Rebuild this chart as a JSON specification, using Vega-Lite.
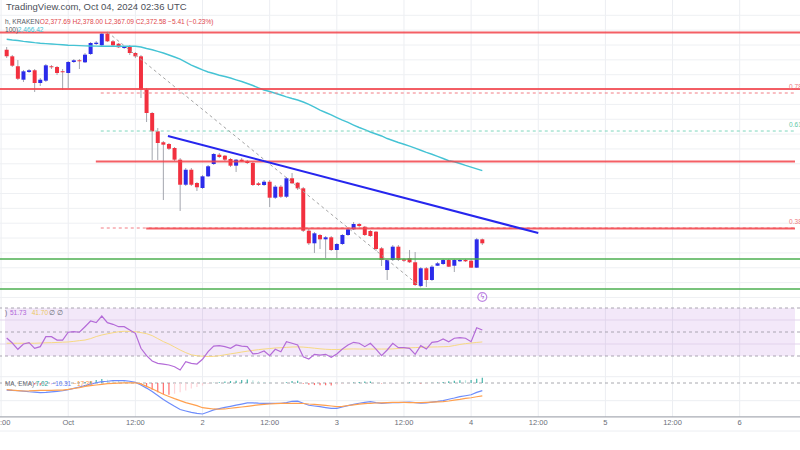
{
"$schema":"https://vega.github.io/schema/vega-lite/v6.json",
"autosize":"none","width":800,"height":417,
"padding":{"left":0,"top":0,"right":0,"bottom":33},
"background":"#ffffff",
"config":{"view":{"stroke":null},"font":"Liberation Sans"},
"datasets":{
"c":[
{"t":"2024-09-30T13:00:00Z","o":2627.7,"h":2631.3,"l":2616.7,"c":2618.9,"ma":2641.7,"rsi":45.0,"rma":40.6,"macd":-9.6,"sig":-8.9,"hist":-0.7},
{"t":"2024-09-30T14:00:00Z","o":2618.9,"h":2620.7,"l":2604.7,"c":2606.4,"ma":2640.7,"rsi":40.8,"rma":40.6,"macd":-10.0,"sig":-9.7,"hist":-0.3},
{"t":"2024-09-30T15:00:00Z","o":2605.6,"h":2614.0,"l":2587.3,"c":2589.1,"ma":2640.0,"rsi":35.6,"rma":40.6,"macd":-10.5,"sig":-10.3,"hist":-0.2},
{"t":"2024-09-30T16:00:00Z","o":2587.7,"h":2600.7,"l":2584.7,"c":2598.9,"ma":2638.9,"rsi":40.0,"rma":40.6,"macd":-11.0,"sig":-10.8,"hist":-0.2},
{"t":"2024-09-30T17:00:00Z","o":2598.0,"h":2602.0,"l":2596.7,"c":2600.3,"ma":2638.0,"rsi":41.1,"rma":40.6,"macd":-11.8,"sig":-10.7,"hist":-1.1},
{"t":"2024-09-30T18:00:00Z","o":2600.3,"h":2602.0,"l":2571.3,"c":2583.3,"ma":2637.1,"rsi":36.4,"rma":40.6,"macd":-12.3,"sig":-10.4,"hist":-1.9},
{"t":"2024-09-30T19:00:00Z","o":2583.3,"h":2590.0,"l":2579.3,"c":2587.7,"ma":2636.4,"rsi":37.8,"rma":40.8,"macd":-13.0,"sig":-10.1,"hist":-2.9},
{"t":"2024-09-30T20:00:00Z","o":2586.4,"h":2608.7,"l":2584.7,"c":2606.9,"ma":2635.9,"rsi":46.1,"rma":41.0,"macd":-12.6,"sig":-10.0,"hist":-2.6},
{"t":"2024-09-30T21:00:00Z","o":2605.6,"h":2607.3,"l":2602.0,"c":2604.3,"ma":2635.3,"rsi":46.1,"rma":41.1,"macd":-11.9,"sig":-9.9,"hist":-2.0},
{"t":"2024-09-30T22:00:00Z","o":2604.7,"h":2606.0,"l":2594.0,"c":2596.7,"ma":2634.8,"rsi":43.3,"rma":41.3,"macd":-11.2,"sig":-9.7,"hist":-1.5},
{"t":"2024-09-30T23:00:00Z","o":2598.9,"h":2602.0,"l":2574.0,"c":2597.6,"ma":2634.3,"rsi":43.3,"rma":41.5,"macd":-10.5,"sig":-9.6,"hist":-0.9},
{"t":"2024-10-01T00:00:00Z","o":2596.7,"h":2612.7,"l":2576.7,"c":2611.3,"ma":2633.7,"rsi":49.8,"rma":41.7,"macd":-9.1,"sig":-8.6,"hist":-0.5},
{"t":"2024-10-01T01:00:00Z","o":2611.3,"h":2615.3,"l":2610.0,"c":2613.6,"ma":2633.5,"rsi":50.3,"rma":42.2,"macd":-7.3,"sig":-7.4,"hist":0.1},
{"t":"2024-10-01T02:00:00Z","o":2613.6,"h":2615.3,"l":2602.0,"c":2612.3,"ma":2633.2,"rsi":49.8,"rma":42.8,"macd":-5.4,"sig":-6.2,"hist":0.8},
{"t":"2024-10-01T03:00:00Z","o":2610.9,"h":2623.3,"l":2610.0,"c":2621.1,"ma":2632.9,"rsi":54.4,"rma":43.3,"macd":-3.5,"sig":-4.7,"hist":1.5},
{"t":"2024-10-01T04:00:00Z","o":2622.0,"h":2638.0,"l":2620.7,"c":2636.7,"ma":2632.7,"rsi":59.2,"rma":44.5,"macd":-1.6,"sig":-3.6,"hist":2.5},
{"t":"2024-10-01T05:00:00Z","o":2635.3,"h":2639.3,"l":2634.0,"c":2637.1,"ma":2632.5,"rsi":57.8,"rma":46.2,"macd":0.3,"sig":-2.7,"hist":4.0},
{"t":"2024-10-01T06:00:00Z","o":2633.6,"h":2650.0,"l":2632.7,"c":2649.1,"ma":2632.3,"rsi":63.3,"rma":47.5,"macd":1.9,"sig":-1.8,"hist":5.4},
{"t":"2024-10-01T07:00:00Z","o":2649.1,"h":2651.3,"l":2638.0,"c":2638.9,"ma":2632.3,"rsi":57.8,"rma":48.5,"macd":2.4,"sig":-0.9,"hist":4.5},
{"t":"2024-10-01T08:00:00Z","o":2638.9,"h":2640.7,"l":2632.7,"c":2633.6,"ma":2632.3,"rsi":56.4,"rma":49.4,"macd":3.1,"sig":-0.4,"hist":4.0},
{"t":"2024-10-01T09:00:00Z","o":2635.7,"h":2636.7,"l":2630.0,"c":2630.9,"ma":2632.3,"rsi":54.4,"rma":50.2,"macd":3.1,"sig":-0.1,"hist":3.5},
{"t":"2024-10-01T10:00:00Z","o":2630.0,"h":2632.7,"l":2628.7,"c":2631.3,"ma":2632.3,"rsi":54.4,"rma":50.6,"macd":3.1,"sig":0.1,"hist":3.0},
{"t":"2024-10-01T11:00:00Z","o":2632.3,"h":2634.0,"l":2620.7,"c":2623.3,"ma":2632.3,"rsi":51.7,"rma":50.5,"macd":2.4,"sig":0.3,"hist":2.0},
{"t":"2024-10-01T12:00:00Z","o":2623.3,"h":2624.7,"l":2616.7,"c":2618.9,"ma":2632.3,"rsi":48.9,"rma":50.3,"macd":0.8,"sig":0.3,"hist":0.5},
{"t":"2024-10-01T13:00:00Z","o":2618.9,"h":2620.7,"l":2563.3,"c":2574.4,"ma":2631.3,"rsi":36.4,"rma":49.5,"macd":-2.7,"sig":-1.2,"hist":-2.0},
{"t":"2024-10-01T14:00:00Z","o":2574.4,"h":2576.7,"l":2531.3,"c":2543.3,"ma":2629.3,"rsi":30.3,"rma":48.6,"macd":-6.9,"sig":-4.5,"hist":-5.0},
{"t":"2024-10-01T15:00:00Z","o":2543.3,"h":2544.7,"l":2480.7,"c":2518.9,"ma":2627.6,"rsi":25.8,"rma":47.0,"macd":-11.6,"sig":-7.8,"hist":-9.0},
{"t":"2024-10-01T16:00:00Z","o":2518.9,"h":2523.3,"l":2480.7,"c":2503.3,"ma":2625.6,"rsi":23.9,"rma":44.5,"macd":-17.0,"sig":-11.6,"hist":-12.5},
{"t":"2024-10-01T17:00:00Z","o":2504.3,"h":2506.0,"l":2427.3,"c":2501.1,"ma":2623.3,"rsi":23.3,"rma":42.0,"macd":-22.3,"sig":-15.3,"hist":-15.0},
{"t":"2024-10-01T18:00:00Z","o":2502.0,"h":2503.3,"l":2494.0,"c":2495.7,"ma":2620.7,"rsi":22.5,"rma":40.0,"macd":-26.9,"sig":-18.2,"hist":-15.8},
{"t":"2024-10-01T19:00:00Z","o":2496.7,"h":2498.0,"l":2479.3,"c":2481.1,"ma":2618.0,"rsi":21.1,"rma":37.5,"macd":-31.5,"sig":-21.1,"hist":-14.5},
{"t":"2024-10-01T20:00:00Z","o":2481.1,"h":2483.3,"l":2412.7,"c":2447.7,"ma":2615.3,"rsi":18.3,"rma":35.0,"macd":-35.8,"sig":-23.8,"hist":-12.5},
{"t":"2024-10-01T21:00:00Z","o":2447.7,"h":2470.0,"l":2446.0,"c":2467.7,"ma":2611.3,"rsi":25.3,"rma":32.8,"macd":-37.8,"sig":-26.5,"hist":-10.0},
{"t":"2024-10-01T22:00:00Z","o":2467.7,"h":2470.0,"l":2446.0,"c":2447.7,"ma":2607.3,"rsi":23.9,"rma":31.0,"macd":-39.7,"sig":-28.5,"hist":-7.5},
{"t":"2024-10-01T23:00:00Z","o":2450.0,"h":2451.3,"l":2439.3,"c":2444.3,"ma":2604.0,"rsi":23.3,"rma":30.2,"macd":-41.1,"sig":-30.5,"hist":-5.5},
{"t":"2024-10-02T00:00:00Z","o":2443.3,"h":2460.7,"l":2442.0,"c":2458.9,"ma":2600.7,"rsi":27.3,"rma":29.8,"macd":-41.9,"sig":-33.4,"hist":-3.5},
{"t":"2024-10-02T01:00:00Z","o":2458.9,"h":2474.0,"l":2458.0,"c":2472.3,"ma":2598.0,"rsi":33.6,"rma":29.6,"macd":-39.2,"sig":-34.2,"hist":-1.5},
{"t":"2024-10-02T02:00:00Z","o":2475.3,"h":2490.0,"l":2474.0,"c":2488.7,"ma":2596.0,"rsi":38.3,"rma":29.7,"macd":-36.4,"sig":-35.1,"hist":0.5},
{"t":"2024-10-02T03:00:00Z","o":2487.7,"h":2490.0,"l":2483.3,"c":2484.7,"ma":2593.7,"rsi":38.6,"rma":30.2,"macd":-34.6,"sig":-35.5,"hist":0.9},
{"t":"2024-10-02T04:00:00Z","o":2486.4,"h":2487.3,"l":2479.3,"c":2481.1,"ma":2592.0,"rsi":37.8,"rma":31.0,"macd":-33.0,"sig":-35.1,"hist":2.1},
{"t":"2024-10-02T05:00:00Z","o":2482.0,"h":2483.3,"l":2471.3,"c":2473.1,"ma":2590.0,"rsi":36.4,"rma":31.8,"macd":-31.5,"sig":-34.1,"hist":2.6},
{"t":"2024-10-02T06:00:00Z","o":2473.1,"h":2482.0,"l":2464.7,"c":2481.1,"ma":2587.6,"rsi":39.2,"rma":32.5,"macd":-30.0,"sig":-33.2,"hist":3.2},
{"t":"2024-10-02T07:00:00Z","o":2481.1,"h":2483.3,"l":2478.0,"c":2478.9,"ma":2585.3,"rsi":38.3,"rma":33.3,"macd":-28.5,"sig":-32.4,"hist":3.9},
{"t":"2024-10-02T08:00:00Z","o":2478.9,"h":2480.7,"l":2475.3,"c":2476.7,"ma":2582.7,"rsi":37.8,"rma":34.0,"macd":-26.9,"sig":-31.5,"hist":4.6},
{"t":"2024-10-02T09:00:00Z","o":2476.7,"h":2478.0,"l":2446.0,"c":2447.3,"ma":2580.0,"rsi":31.7,"rma":34.7,"macd":-26.9,"sig":-30.5,"hist":3.6},
{"t":"2024-10-02T10:00:00Z","o":2449.6,"h":2451.3,"l":2446.0,"c":2447.3,"ma":2576.7,"rsi":32.3,"rma":35.3,"macd":-27.3,"sig":-29.6,"hist":2.3},
{"t":"2024-10-02T11:00:00Z","o":2447.3,"h":2454.0,"l":2446.0,"c":2451.7,"ma":2574.0,"rsi":34.2,"rma":35.8,"macd":-27.4,"sig":-28.9,"hist":1.5},
{"t":"2024-10-02T12:00:00Z","o":2451.7,"h":2454.0,"l":2418.0,"c":2430.4,"ma":2572.0,"rsi":30.3,"rma":36.2,"macd":-27.4,"sig":-28.4,"hist":1.0},
{"t":"2024-10-02T13:00:00Z","o":2430.4,"h":2447.3,"l":2428.7,"c":2445.1,"ma":2569.7,"rsi":35.6,"rma":36.7,"macd":-27.4,"sig":-27.8,"hist":0.4},
{"t":"2024-10-02T14:00:00Z","o":2445.1,"h":2447.3,"l":2430.0,"c":2431.7,"ma":2567.3,"rsi":33.6,"rma":36.9,"macd":-27.4,"sig":-27.4,"hist":0.1},
{"t":"2024-10-02T15:00:00Z","o":2431.7,"h":2458.0,"l":2430.0,"c":2456.3,"ma":2564.9,"rsi":41.9,"rma":37.2,"macd":-26.4,"sig":-27.4,"hist":1.0},
{"t":"2024-10-02T16:00:00Z","o":2456.3,"h":2463.3,"l":2448.7,"c":2449.6,"ma":2562.7,"rsi":40.6,"rma":37.5,"macd":-24.7,"sig":-27.4,"hist":2.7},
{"t":"2024-10-02T17:00:00Z","o":2450.4,"h":2451.3,"l":2440.7,"c":2442.9,"ma":2560.7,"rsi":39.2,"rma":37.6,"macd":-24.5,"sig":-27.4,"hist":2.9},
{"t":"2024-10-02T18:00:00Z","o":2442.9,"h":2444.7,"l":2384.7,"c":2386.4,"ma":2558.0,"rsi":29.4,"rma":37.4,"macd":-27.3,"sig":-27.7,"hist":-1.0},
{"t":"2024-10-02T19:00:00Z","o":2386.4,"h":2388.7,"l":2367.3,"c":2369.6,"ma":2554.7,"rsi":27.5,"rma":37.0,"macd":-30.1,"sig":-28.4,"hist":-2.5},
{"t":"2024-10-02T20:00:00Z","o":2369.6,"h":2384.7,"l":2356.7,"c":2382.9,"ma":2551.1,"rsi":31.4,"rma":36.5,"macd":-31.1,"sig":-28.9,"hist":-2.8},
{"t":"2024-10-02T21:00:00Z","o":2380.7,"h":2382.0,"l":2362.0,"c":2374.9,"ma":2547.3,"rsi":30.8,"rma":36.0,"macd":-32.0,"sig":-29.6,"hist":-3.0},
{"t":"2024-10-02T22:00:00Z","o":2374.9,"h":2379.3,"l":2350.0,"c":2377.6,"ma":2544.0,"rsi":31.4,"rma":35.6,"macd":-33.2,"sig":-30.3,"hist":-3.2},
{"t":"2024-10-02T23:00:00Z","o":2377.6,"h":2379.3,"l":2359.3,"c":2360.7,"ma":2540.7,"rsi":28.9,"rma":35.4,"macd":-34.3,"sig":-31.1,"hist":-3.5},
{"t":"2024-10-03T00:00:00Z","o":2360.7,"h":2370.0,"l":2350.0,"c":2368.7,"ma":2537.1,"rsi":31.7,"rma":35.4,"macd":-34.2,"sig":-31.9,"hist":-2.5},
{"t":"2024-10-03T01:00:00Z","o":2368.7,"h":2382.0,"l":2367.3,"c":2380.7,"ma":2533.7,"rsi":35.8,"rma":35.6,"macd":-32.4,"sig":-31.5,"hist":-1.0},
{"t":"2024-10-03T02:00:00Z","o":2380.7,"h":2390.0,"l":2379.3,"c":2388.3,"ma":2530.7,"rsi":39.2,"rma":35.8,"macd":-30.5,"sig":-30.4,"hist":-0.2},
{"t":"2024-10-03T03:00:00Z","o":2388.3,"h":2398.0,"l":2387.3,"c":2395.3,"ma":2527.3,"rsi":41.4,"rma":35.9,"macd":-28.9,"sig":-29.5,"hist":0.6},
{"t":"2024-10-03T04:00:00Z","o":2395.3,"h":2396.7,"l":2391.3,"c":2392.7,"ma":2524.0,"rsi":40.6,"rma":35.8,"macd":-27.4,"sig":-28.6,"hist":1.2},
{"t":"2024-10-03T05:00:00Z","o":2391.7,"h":2392.7,"l":2379.3,"c":2380.7,"ma":2521.1,"rsi":37.8,"rma":35.8,"macd":-26.1,"sig":-28.0,"hist":1.9},
{"t":"2024-10-03T06:00:00Z","o":2386.0,"h":2387.3,"l":2378.0,"c":2379.3,"ma":2518.0,"rsi":40.6,"rma":35.8,"macd":-25.3,"sig":-27.4,"hist":2.1},
{"t":"2024-10-03T07:00:00Z","o":2385.1,"h":2386.0,"l":2359.3,"c":2362.0,"ma":2515.3,"rsi":35.8,"rma":35.8,"macd":-26.5,"sig":-27.0,"hist":0.5},
{"t":"2024-10-03T08:00:00Z","o":2362.9,"h":2364.7,"l":2339.3,"c":2347.3,"ma":2512.7,"rsi":30.3,"rma":35.8,"macd":-27.4,"sig":-26.8,"hist":-0.6},
{"t":"2024-10-03T09:00:00Z","o":2334.0,"h":2348.7,"l":2320.7,"c":2347.3,"ma":2509.3,"rsi":35.0,"rma":35.8,"macd":-27.0,"sig":-26.5,"hist":-0.5},
{"t":"2024-10-03T10:00:00Z","o":2347.3,"h":2367.3,"l":2346.0,"c":2365.1,"ma":2506.7,"rsi":40.6,"rma":35.9,"macd":-26.6,"sig":-26.2,"hist":-0.4},
{"t":"2024-10-03T11:00:00Z","o":2365.1,"h":2367.3,"l":2346.0,"c":2347.3,"ma":2504.0,"rsi":36.9,"rma":36.3,"macd":-26.4,"sig":-26.1,"hist":-0.3},
{"t":"2024-10-03T12:00:00Z","o":2348.3,"h":2350.0,"l":2344.7,"c":2346.4,"ma":2501.7,"rsi":36.9,"rma":36.6,"macd":-26.1,"sig":-26.2,"hist":0.1},
{"t":"2024-10-03T13:00:00Z","o":2349.6,"h":2360.7,"l":2343.3,"c":2344.3,"ma":2499.1,"rsi":36.4,"rma":36.8,"macd":-25.7,"sig":-26.4,"hist":0.7},
{"t":"2024-10-03T14:00:00Z","o":2344.3,"h":2358.0,"l":2312.7,"c":2314.0,"ma":2496.4,"rsi":31.4,"rma":37.0,"macd":-26.5,"sig":-26.5,"hist":-0.1},
{"t":"2024-10-03T15:00:00Z","o":2312.7,"h":2338.0,"l":2311.3,"c":2336.3,"ma":2493.7,"rsi":38.6,"rma":37.2,"macd":-27.3,"sig":-26.6,"hist":-0.7},
{"t":"2024-10-03T16:00:00Z","o":2336.3,"h":2338.0,"l":2311.3,"c":2320.7,"ma":2490.9,"rsi":35.8,"rma":37.4,"macd":-26.8,"sig":-26.2,"hist":-0.6},
{"t":"2024-10-03T17:00:00Z","o":2320.7,"h":2340.7,"l":2319.3,"c":2338.4,"ma":2488.3,"rsi":41.4,"rma":37.5,"macd":-25.8,"sig":-25.8,"hist":0.3},
{"t":"2024-10-03T18:00:00Z","o":2339.7,"h":2344.7,"l":2339.3,"c":2342.9,"ma":2485.6,"rsi":41.9,"rma":37.6,"macd":-24.9,"sig":-25.5,"hist":0.6},
{"t":"2024-10-03T19:00:00Z","o":2342.0,"h":2348.7,"l":2340.7,"c":2347.3,"ma":2482.7,"rsi":44.2,"rma":37.7,"macd":-23.8,"sig":-25.1,"hist":1.3},
{"t":"2024-10-03T20:00:00Z","o":2347.3,"h":2348.7,"l":2338.0,"c":2338.4,"ma":2479.7,"rsi":41.9,"rma":37.9,"macd":-22.0,"sig":-24.3,"hist":2.3},
{"t":"2024-10-03T21:00:00Z","o":2339.7,"h":2348.7,"l":2331.3,"c":2347.3,"ma":2478.3,"rsi":44.8,"rma":38.7,"macd":-20.3,"sig":-23.2,"hist":2.9},
{"t":"2024-10-03T22:00:00Z","o":2345.6,"h":2348.7,"l":2344.7,"c":2347.3,"ma":2476.0,"rsi":45.3,"rma":39.6,"macd":-18.4,"sig":-22.2,"hist":3.8},
{"t":"2024-10-03T23:00:00Z","o":2347.3,"h":2348.7,"l":2344.7,"c":2345.6,"ma":2473.5,"rsi":44.8,"rma":40.3,"macd":-17.2,"sig":-20.9,"hist":3.7},
{"t":"2024-10-04T00:00:00Z","o":2346.4,"h":2348.7,"l":2336.7,"c":2337.1,"ma":2471.2,"rsi":41.9,"rma":40.8,"macd":-15.9,"sig":-19.9,"hist":4.0},
{"t":"2024-10-04T01:00:00Z","o":2337.1,"h":2376.7,"l":2336.7,"c":2374.9,"ma":2468.8,"rsi":53.6,"rma":41.3,"macd":-12.7,"sig":-18.6,"hist":5.9},
{"t":"2024-10-04T02:00:00Z","o":2374.9,"h":2376.0,"l":2367.3,"c":2369.6,"ma":2466.4,"rsi":51.7,"rma":41.7,"macd":-10.31,"sig":-17.33,"hist":7.02}
],
"xt":[
{"t":"2024-09-30T12:00:00Z","lbl":"12:00"},{"t":"2024-10-01T00:00:00Z","lbl":"Oct"},{"t":"2024-10-01T12:00:00Z","lbl":"12:00"},
{"t":"2024-10-02T00:00:00Z","lbl":"2"},{"t":"2024-10-02T12:00:00Z","lbl":"12:00"},{"t":"2024-10-03T00:00:00Z","lbl":"3"},
{"t":"2024-10-03T12:00:00Z","lbl":"12:00"},{"t":"2024-10-04T00:00:00Z","lbl":"4"},{"t":"2024-10-04T12:00:00Z","lbl":"12:00"},
{"t":"2024-10-05T00:00:00Z","lbl":"5"},{"t":"2024-10-05T12:00:00Z","lbl":"12:00"},{"t":"2024-10-06T00:00:00Z","lbl":"6"}],
"mGrid":[{"p":2673.6},{"p":2653.8},{"p":2634},{"p":2614.2},{"p":2594.4},{"p":2574.6},{"p":2554.8},{"p":2535},{"p":2515.2},{"p":2495.4},{"p":2475.6},{"p":2455.8},{"p":2436},{"p":2416.2},{"p":2396.4},{"p":2376.6},{"p":2356.8},{"p":2337},{"p":2317.2},{"p":2297.4}],
"lvFull":[{"p":2650.7,"k":"r"},{"p":2575.3,"k":"r"},{"p":2348.7,"k":"g"},{"p":2308.7,"k":"g"}],
"lvPart":[{"t":"2024-10-01T04:56:00Z","p":2478.7},{"t":"2024-10-01T13:56:00Z","p":2389.3}],
"fib":[{"t":"2024-10-01T05:49:00Z","p":2570.0,"lvl":"0.786"},{"t":"2024-10-01T05:49:00Z","p":2519.3,"lvl":"0.618"},{"t":"2024-10-01T05:49:00Z","p":2390.0,"lvl":"0.382"}],
"trend":[{"t":"2024-10-01T17:49:00Z","p":2512.7,"id":"blue"},{"t":"2024-10-04T12:00:00Z","p":2383.3,"id":"blue"},{"t":"2024-10-01T07:00:00Z","p":2651.3,"id":"diag"},{"t":"2024-10-03T15:00:00Z","p":2311.3,"id":"diag"}],
"ev":[{"t":"2024-10-04T02:00:00Z","p":2298}],
"hdr":[{"t":"2024-09-30T12:42:00Z","p":2684.7,"txt":"TradingView.com, Oct 04, 2024 02:36 UTC"}],
"leg":[
{"t":"2024-09-30T12:42:00Z","p":2664.7,"txt":"h, KRAKEN","role":"sym"},
{"t":"2024-09-30T18:55:00Z","p":2664.7,"txt":"O2,377.69  H2,378.00  L2,367.09  C2,372.58  −5.41 (−0.23%)","role":"ohlc"},
{"t":"2024-09-30T12:42:00Z","p":2654.0,"txt":"100)","role":"sym"},
{"t":"2024-09-30T15:00:00Z","p":2654.0,"txt":"2,466.42","role":"ma"}],
"rsiBand":[{"top":70,"bot":30}],
"rsiLv":[{"v":70},{"v":50},{"v":30}],
"rsiGrid":[{"v":60},{"v":40}],
"rsiTxt":[
{"t":"2024-09-30T12:42:00Z","v":66.1,"txt":")","role":"sym"},
{"t":"2024-09-30T13:35:00Z","v":66.1,"txt":"51.73","role":"rsi"},
{"t":"2024-09-30T17:28:00Z","v":66.1,"txt":"41.70","role":"rma"},
{"t":"2024-09-30T20:39:00Z","v":66.1,"txt":"∅ ∅","role":"sym"}],
"macdGrid":[{"v":8.5},{"v":-23.9},{"v":-64.9}],
"macdZero":[{"v":0}],
"macdAxis":[{"v":-45.9}],
"macdTxt":[
{"t":"2024-09-30T12:42:00Z","v":-1.35,"txt":"MA, EMA)","role":"sym"},
{"t":"2024-09-30T18:11:00Z","v":-1.35,"txt":"7.02","role":"h"},
{"t":"2024-09-30T21:00:00Z","v":-1.35,"txt":"−10.31","role":"m"},
{"t":"2024-10-01T00:53:00Z","v":-1.35,"txt":"−17.33","role":"s"}]
},
"layer":[
{"layer":[
 {"data":{"name":"xt"},"mark":{"type":"rule","color":"#eceef2","strokeWidth":1},
  "encoding":{"x":{"field":"t","type":"temporal","scale":{"type":"utc","domain":[{"year":2024,"month":9,"date":30,"hours":12,"minutes":42,"utc":true},{"year":2024,"month":10,"date":6,"hours":9,"minutes":53,"utc":true}]},"axis":null}}},
 {"data":{"name":"mGrid"},"mark":{"type":"rule","color":"#eef0f3","strokeWidth":1},
  "encoding":{"y":{"field":"p","type":"quantitative","scale":{"domain":[2294,2694],"range":[300,0],"nice":false,"zero":false},"axis":null}}},
 {"data":{"name":"c"},"mark":{"type":"rule","color":"#a3a6ae","strokeWidth":1},
  "encoding":{
   "x":{"field":"t","type":"temporal","scale":{"type":"utc","domain":[{"year":2024,"month":9,"date":30,"hours":12,"minutes":42,"utc":true},{"year":2024,"month":10,"date":6,"hours":9,"minutes":53,"utc":true}]},"axis":null},
   "y":{"field":"l","type":"quantitative","scale":{"domain":[2294,2694],"range":[300,0],"nice":false,"zero":false},"axis":null},
   "y2":{"field":"h"}}},
 {"data":{"name":"c"},"mark":{"type":"bar","size":4},
  "encoding":{
   "x":{"field":"t","type":"temporal","scale":{"type":"utc","domain":[{"year":2024,"month":9,"date":30,"hours":12,"minutes":42,"utc":true},{"year":2024,"month":10,"date":6,"hours":9,"minutes":53,"utc":true}]},"axis":null},
   "y":{"field":"o","type":"quantitative","scale":{"domain":[2294,2694],"range":[300,0],"nice":false,"zero":false},"axis":null},
   "y2":{"field":"c"},
   "color":{"condition":{"test":"datum.c >= datum.o","value":"#2b2bea"},"value":"#f2303f"}}},
 {"data":{"name":"c"},"mark":{"type":"line","color":"#45c3d4","strokeWidth":1.4},
  "encoding":{
   "x":{"field":"t","type":"temporal","scale":{"type":"utc","domain":[{"year":2024,"month":9,"date":30,"hours":12,"minutes":42,"utc":true},{"year":2024,"month":10,"date":6,"hours":9,"minutes":53,"utc":true}]},"axis":null},
   "y":{"field":"ma","type":"quantitative","scale":{"domain":[2294,2694],"range":[300,0],"nice":false,"zero":false},"axis":null}}},
 {"data":{"name":"lvFull"},"transform":[{"filter":"datum.k == 'r'"}],"mark":{"type":"rule","color":"#f2434a","strokeWidth":2,"opacity":0.85},
  "encoding":{"y":{"field":"p","type":"quantitative","scale":{"domain":[2294,2694],"range":[300,0],"nice":false,"zero":false},"axis":null}}},
 {"data":{"name":"lvFull"},"transform":[{"filter":"datum.k == 'g'"}],"mark":{"type":"rule","color":"#4caf50","strokeWidth":1.4},
  "encoding":{"y":{"field":"p","type":"quantitative","scale":{"domain":[2294,2694],"range":[300,0],"nice":false,"zero":false},"axis":null}}},
 {"data":{"name":"fib"},"mark":{"type":"rule","strokeWidth":1,"strokeDash":[3,3]},
  "encoding":{
   "x":{"field":"t","type":"temporal","scale":{"type":"utc","domain":[{"year":2024,"month":9,"date":30,"hours":12,"minutes":42,"utc":true},{"year":2024,"month":10,"date":6,"hours":9,"minutes":53,"utc":true}]},"axis":null},
   "x2":{"datum":{"year":2024,"month":10,"date":6,"hours":9,"minutes":53,"utc":true}},
   "y":{"field":"p","type":"quantitative","scale":{"domain":[2294,2694],"range":[300,0],"nice":false,"zero":false},"axis":null},
   "color":{"condition":{"test":"datum.lvl == '0.618'","value":"#7fd6bd"},"value":"#f27d84"}}},
 {"data":{"name":"fib"},"mark":{"type":"text","align":"left","baseline":"middle","dy":-6,"fontSize":6.5},
  "encoding":{
   "x":{"datum":{"year":2024,"month":10,"date":6,"hours":8,"minutes":50,"utc":true},"type":"temporal","scale":{"type":"utc","domain":[{"year":2024,"month":9,"date":30,"hours":12,"minutes":42,"utc":true},{"year":2024,"month":10,"date":6,"hours":9,"minutes":53,"utc":true}]},"axis":null},
   "y":{"field":"p","type":"quantitative","scale":{"domain":[2294,2694],"range":[300,0],"nice":false,"zero":false},"axis":null},
   "text":{"field":"lvl"},
   "color":{"condition":{"test":"datum.lvl == '0.618'","value":"#5cc9a7"},"value":"#ee7a80"}}},
 {"data":{"name":"lvPart"},"mark":{"type":"rule","color":"#f2434a","strokeWidth":2,"opacity":0.85},
  "encoding":{
   "x":{"field":"t","type":"temporal","scale":{"type":"utc","domain":[{"year":2024,"month":9,"date":30,"hours":12,"minutes":42,"utc":true},{"year":2024,"month":10,"date":6,"hours":9,"minutes":53,"utc":true}]},"axis":null},
   "x2":{"datum":{"year":2024,"month":10,"date":6,"hours":9,"minutes":53,"utc":true}},
   "y":{"field":"p","type":"quantitative","scale":{"domain":[2294,2694],"range":[300,0],"nice":false,"zero":false},"axis":null}}},
 {"data":{"name":"trend"},"transform":[{"filter":"datum.id == 'diag'"}],"mark":{"type":"line","color":"#a4a4a4","strokeWidth":1,"strokeDash":[3,3]},
  "encoding":{
   "x":{"field":"t","type":"temporal","scale":{"type":"utc","domain":[{"year":2024,"month":9,"date":30,"hours":12,"minutes":42,"utc":true},{"year":2024,"month":10,"date":6,"hours":9,"minutes":53,"utc":true}]},"axis":null},
   "y":{"field":"p","type":"quantitative","scale":{"domain":[2294,2694],"range":[300,0],"nice":false,"zero":false},"axis":null}}},
 {"data":{"name":"trend"},"transform":[{"filter":"datum.id == 'blue'"}],"mark":{"type":"line","color":"#2626ee","strokeWidth":2},
  "encoding":{
   "x":{"field":"t","type":"temporal","scale":{"type":"utc","domain":[{"year":2024,"month":9,"date":30,"hours":12,"minutes":42,"utc":true},{"year":2024,"month":10,"date":6,"hours":9,"minutes":53,"utc":true}]},"axis":null},
   "y":{"field":"p","type":"quantitative","scale":{"domain":[2294,2694],"range":[300,0],"nice":false,"zero":false},"axis":null}}},
 {"data":{"name":"ev"},"mark":{"type":"point","shape":"circle","size":80,"filled":false,"stroke":"#a455d8","strokeWidth":1.2},
  "encoding":{
   "x":{"field":"t","type":"temporal","scale":{"type":"utc","domain":[{"year":2024,"month":9,"date":30,"hours":12,"minutes":42,"utc":true},{"year":2024,"month":10,"date":6,"hours":9,"minutes":53,"utc":true}]},"axis":null},
   "y":{"field":"p","type":"quantitative","scale":{"domain":[2294,2694],"range":[300,0],"nice":false,"zero":false},"axis":null}}},
 {"data":{"name":"ev"},"mark":{"type":"text","text":"ϟ","fontSize":7,"color":"#a455d8","align":"center","baseline":"middle","font":"DejaVu Sans"},
  "encoding":{
   "x":{"field":"t","type":"temporal","scale":{"type":"utc","domain":[{"year":2024,"month":9,"date":30,"hours":12,"minutes":42,"utc":true},{"year":2024,"month":10,"date":6,"hours":9,"minutes":53,"utc":true}]},"axis":null},
   "y":{"field":"p","type":"quantitative","scale":{"domain":[2294,2694],"range":[300,0],"nice":false,"zero":false},"axis":null}}},
 {"data":{"name":"hdr"},"mark":{"type":"text","align":"left","baseline":"middle","fontSize":9.5,"color":"#4c4f58","dx":1},
  "encoding":{
   "x":{"field":"t","type":"temporal","scale":{"type":"utc","domain":[{"year":2024,"month":9,"date":30,"hours":12,"minutes":42,"utc":true},{"year":2024,"month":10,"date":6,"hours":9,"minutes":53,"utc":true}]},"axis":null},
   "y":{"field":"p","type":"quantitative","scale":{"domain":[2294,2694],"range":[300,0],"nice":false,"zero":false},"axis":null},
   "text":{"field":"txt"}}},
 {"data":{"name":"leg"},"mark":{"type":"text","align":"left","baseline":"middle","fontSize":6.6},
  "encoding":{
   "x":{"field":"t","type":"temporal","scale":{"type":"utc","domain":[{"year":2024,"month":9,"date":30,"hours":12,"minutes":42,"utc":true},{"year":2024,"month":10,"date":6,"hours":9,"minutes":53,"utc":true}]},"axis":null},
   "y":{"field":"p","type":"quantitative","scale":{"domain":[2294,2694],"range":[300,0],"nice":false,"zero":false},"axis":null},
   "text":{"field":"txt"},
   "color":{"condition":[{"test":"datum.role == 'ohlc'","value":"#e0474c"},{"test":"datum.role == 'ma'","value":"#3fbfd2"}],"value":"#555a66"}}}
]},
{"layer":[
 {"data":{"name":"rsiBand"},"mark":{"type":"rect","color":"#a040d0","opacity":0.12},
  "encoding":{
   "x":{"datum":{"year":2024,"month":9,"date":30,"hours":12,"minutes":42,"utc":true},"type":"temporal","scale":{"type":"utc","domain":[{"year":2024,"month":9,"date":30,"hours":12,"minutes":42,"utc":true},{"year":2024,"month":10,"date":6,"hours":9,"minutes":53,"utc":true}]},"axis":null},
   "x2":{"datum":{"year":2024,"month":10,"date":6,"hours":9,"minutes":53,"utc":true}},
   "y":{"field":"top","type":"quantitative","scale":{"domain":[0,100],"range":[392,272],"nice":false,"zero":false},"axis":null},
   "y2":{"field":"bot"}}},
 {"data":{"name":"rsiGrid"},"mark":{"type":"rule","color":"#e2d3ec","strokeWidth":1},
  "encoding":{"y":{"field":"v","type":"quantitative","scale":{"domain":[0,100],"range":[392,272],"nice":false,"zero":false},"axis":null}}},
 {"data":{"name":"rsiLv"},"mark":{"type":"rule","color":"#aaa5b2","strokeWidth":1,"strokeDash":[3,3]},
  "encoding":{"y":{"field":"v","type":"quantitative","scale":{"domain":[0,100],"range":[392,272],"nice":false,"zero":false},"axis":null}}},
 {"data":{"name":"c"},"mark":{"type":"line","color":"#f7d983","strokeWidth":1},
  "encoding":{
   "x":{"field":"t","type":"temporal","scale":{"type":"utc","domain":[{"year":2024,"month":9,"date":30,"hours":12,"minutes":42,"utc":true},{"year":2024,"month":10,"date":6,"hours":9,"minutes":53,"utc":true}]},"axis":null},
   "y":{"field":"rma","type":"quantitative","scale":{"domain":[0,100],"range":[392,272],"nice":false,"zero":false},"axis":null}}},
 {"data":{"name":"c"},"mark":{"type":"line","color":"#b46bd8","strokeWidth":1.2},
  "encoding":{
   "x":{"field":"t","type":"temporal","scale":{"type":"utc","domain":[{"year":2024,"month":9,"date":30,"hours":12,"minutes":42,"utc":true},{"year":2024,"month":10,"date":6,"hours":9,"minutes":53,"utc":true}]},"axis":null},
   "y":{"field":"rsi","type":"quantitative","scale":{"domain":[0,100],"range":[392,272],"nice":false,"zero":false},"axis":null}}},
 {"data":{"name":"rsiTxt"},"mark":{"type":"text","align":"left","baseline":"middle","fontSize":6.6},
  "encoding":{
   "x":{"field":"t","type":"temporal","scale":{"type":"utc","domain":[{"year":2024,"month":9,"date":30,"hours":12,"minutes":42,"utc":true},{"year":2024,"month":10,"date":6,"hours":9,"minutes":53,"utc":true}]},"axis":null},
   "y":{"field":"v","type":"quantitative","scale":{"domain":[0,100],"range":[392,272],"nice":false,"zero":false},"axis":null},
   "text":{"field":"txt"},
   "color":{"condition":[{"test":"datum.role == 'rsi'","value":"#b066d8"},{"test":"datum.role == 'rma'","value":"#ecc75f"}],"value":"#666a74"}}}
]},
{"layer":[
 {"data":{"name":"macdGrid"},"mark":{"type":"rule","color":"#eceef2","strokeWidth":1},
  "encoding":{"y":{"field":"v","type":"quantitative","scale":{"domain":[-60,40],"range":[427.4,353.4],"nice":false,"zero":false},"axis":null}}},
 {"data":{"name":"macdAxis"},"mark":{"type":"rule","color":"#a9acb4","strokeWidth":1.2},
  "encoding":{"y":{"field":"v","type":"quantitative","scale":{"domain":[-60,40],"range":[427.4,353.4],"nice":false,"zero":false},"axis":null}}},
 {"data":{"name":"xt"},"mark":{"type":"text","align":"center","baseline":"middle","fontSize":7.5,"color":"#6b6e78"},
  "encoding":{
   "x":{"field":"t","type":"temporal","scale":{"type":"utc","domain":[{"year":2024,"month":9,"date":30,"hours":12,"minutes":42,"utc":true},{"year":2024,"month":10,"date":6,"hours":9,"minutes":53,"utc":true}]},"axis":null},
   "y":{"datum":-54.05,"type":"quantitative","scale":{"domain":[-60,40],"range":[427.4,353.4],"nice":false,"zero":false},"axis":null},
   "text":{"field":"lbl"}}},
 {"data":{"name":"macdZero"},"mark":{"type":"rule","color":"#a8a8ae","strokeWidth":1,"strokeDash":[3,3]},
  "encoding":{"y":{"field":"v","type":"quantitative","scale":{"domain":[-60,40],"range":[427.4,353.4],"nice":false,"zero":false},"axis":null}}},
 {"data":{"name":"c"},"transform":[{"window":[{"op":"lag","field":"hist","as":"prev"}],"sort":[{"field":"t"}]}],
  "mark":{"type":"rule","strokeWidth":1.2,"opacity":0.85},
  "encoding":{
   "x":{"field":"t","type":"temporal","scale":{"type":"utc","domain":[{"year":2024,"month":9,"date":30,"hours":12,"minutes":42,"utc":true},{"year":2024,"month":10,"date":6,"hours":9,"minutes":53,"utc":true}]},"axis":null},
   "y":{"field":"hist","type":"quantitative","scale":{"domain":[-60,40],"range":[427.4,353.4],"nice":false,"zero":false},"axis":null},
   "y2":{"datum":0},
   "color":{"condition":[{"test":"datum.hist >= 0 && datum.hist >= datum.prev","value":"#26a69a"},{"test":"datum.hist >= 0","value":"#b2dfdb"},{"test":"datum.hist < datum.prev","value":"#ff5252"}],"value":"#ffcdd2"}}},
 {"data":{"name":"c"},"mark":{"type":"line","color":"#6d8cfb","strokeWidth":1.2},
  "encoding":{
   "x":{"field":"t","type":"temporal","scale":{"type":"utc","domain":[{"year":2024,"month":9,"date":30,"hours":12,"minutes":42,"utc":true},{"year":2024,"month":10,"date":6,"hours":9,"minutes":53,"utc":true}]},"axis":null},
   "y":{"field":"macd","type":"quantitative","scale":{"domain":[-60,40],"range":[427.4,353.4],"nice":false,"zero":false},"axis":null}}},
 {"data":{"name":"c"},"mark":{"type":"line","color":"#ffa04f","strokeWidth":1.2},
  "encoding":{
   "x":{"field":"t","type":"temporal","scale":{"type":"utc","domain":[{"year":2024,"month":9,"date":30,"hours":12,"minutes":42,"utc":true},{"year":2024,"month":10,"date":6,"hours":9,"minutes":53,"utc":true}]},"axis":null},
   "y":{"field":"sig","type":"quantitative","scale":{"domain":[-60,40],"range":[427.4,353.4],"nice":false,"zero":false},"axis":null}}},
 {"data":{"name":"macdTxt"},"mark":{"type":"text","align":"left","baseline":"middle","fontSize":6.4},
  "encoding":{
   "x":{"field":"t","type":"temporal","scale":{"type":"utc","domain":[{"year":2024,"month":9,"date":30,"hours":12,"minutes":42,"utc":true},{"year":2024,"month":10,"date":6,"hours":9,"minutes":53,"utc":true}]},"axis":null},
   "y":{"field":"v","type":"quantitative","scale":{"domain":[-60,40],"range":[427.4,353.4],"nice":false,"zero":false},"axis":null},
   "text":{"field":"txt"},
   "color":{"condition":[{"test":"datum.role == 'h'","value":"#26a69a"},{"test":"datum.role == 'm'","value":"#5b7cfa"},{"test":"datum.role == 's'","value":"#ff9a45"}],"value":"#666a74"}}}
]}
],
"resolve":{"scale":{"y":"independent"}}
}
